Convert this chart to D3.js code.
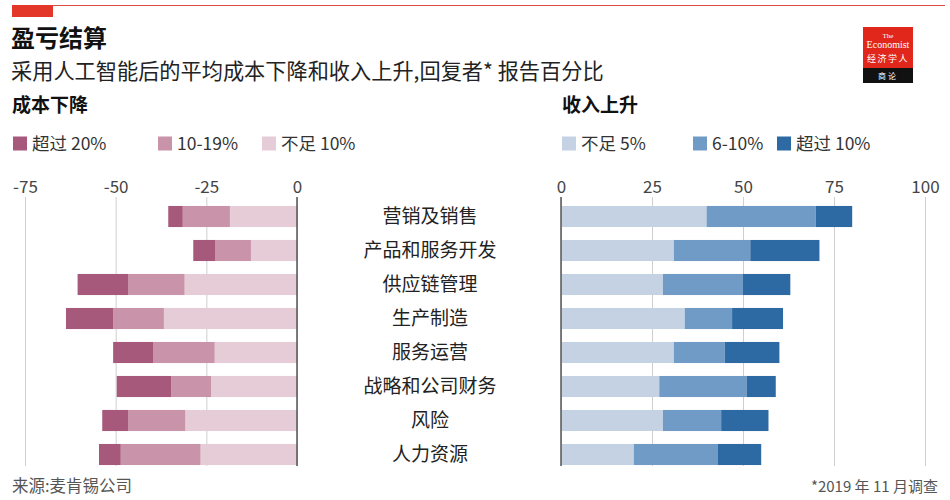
<!DOCTYPE html>
<html><head><meta charset="utf-8">
<script src="https://cdn.jsdelivr.net/npm/d3@7"></script>
<style>
body{margin:0;background:#fff;}
svg{display:block;font-family:"Noto Sans CJK SC","Noto Sans",sans-serif;}
</style></head>
<body><svg id="c" width="950" height="500"></svg>
<script>
const categories = ["营销及销售","产品和服务开发","供应链管理","生产制造","服务运营","战略和公司财务","风险","人力资源"];
// 成本下降 (cost decrease), % of respondents
const costUnder10 = [18.5, 12.7, 31, 36.7, 22.7, 23.7, 30.8, 26.6];
const cost10to19 = [13, 9.9, 15.5, 14, 17, 11, 15.8, 22];
const costOver20 = [4, 6, 14, 13, 11, 15, 7.1, 6];
// 收入上升 (revenue increase), % of respondents
const revUnder5 = [40, 31, 28, 34, 31, 27, 28, 20];
const rev6to10 = [30, 21, 22, 13, 14, 24, 16, 23];
const revOver10 = [10, 19, 13, 14, 15, 8, 13, 12];
const leftTicks = [-75, -50, -25, 0];
const rightTicks = [0, 25, 50, 75, 100];
const leftLegend = ["超过 20%", "10-19%", "不足 10%"];
const rightLegend = ["不足 5%", "6-10%", "超过 10%"];

const svg = d3.select("#c");
const leftColors = ["#a6597b", "#c993a9", "#e5ccd7"];   // over20, 10-19, under10
const rightColors = ["#c4d2e4", "#6f9bc6", "#2d6aa4"];  // under5, 6-10, over10

// top rule
svg.append("line").attr("x1", 12).attr("x2", 945).attr("y1", 5.5).attr("y2", 5.5).attr("stroke", "#e04a3c").attr("stroke-width", 1.2);
svg.append("rect").attr("x", 12).attr("y", 5).attr("width", 41).attr("height", 12).attr("fill", "#e3372a");

// title
svg.append("text").attr("x", 11).attr("y", 47).attr("font-size", 24).attr("font-weight", "bold").attr("fill", "#111").text("盈亏结算");
svg.append("text").attr("x", 11).attr("y", 79).attr("font-size", 21.2).attr("fill", "#222").text("采用人工智能后的平均成本下降和收入上升,回复者* 报告百分比");

// logo
const lg = svg.append("g");
lg.append("rect").attr("x", 863).attr("y", 27).attr("width", 50).attr("height", 56).attr("fill", "#e1261c");
lg.append("rect").attr("x", 863).attr("y", 68).attr("width", 50).attr("height", 15).attr("fill", "#111");
lg.append("text").attr("x", 888).attr("y", 38).attr("text-anchor", "middle").attr("font-size", 7).attr("font-family", "Liberation Serif").attr("fill", "#fff").text("The");
lg.append("text").attr("x", 888).attr("y", 48).attr("text-anchor", "middle").attr("font-size", 10).attr("font-family", "Liberation Serif").attr("fill", "#fff").text("Economist");
lg.append("text").attr("x", 888).attr("y", 62).attr("text-anchor", "middle").attr("font-size", 9).attr("fill", "#fff").attr("letter-spacing", 1.5).text("经济学人");
lg.append("text").attr("x", 888).attr("y", 79).attr("text-anchor", "middle").attr("font-size", 8).attr("fill", "#fff").attr("letter-spacing", 2).text("商论");

// section headers
svg.append("text").attr("x", 12).attr("y", 112).attr("font-size", 19).attr("font-weight", "bold").attr("fill", "#111").text("成本下降");
svg.append("text").attr("x", 562).attr("y", 112).attr("font-size", 19).attr("font-weight", "bold").attr("fill", "#111").text("收入上升");

// legends
const leftLegX = [13, 158, 262];
leftLegend.forEach((t, i) => {
  svg.append("rect").attr("x", leftLegX[i]).attr("y", 136.5).attr("width", 14).attr("height", 14).attr("fill", leftColors[i]);
  svg.append("text").attr("x", leftLegX[i] + 19).attr("y", 150).attr("font-size", 17.5).attr("fill", "#333").text(t);
});
const rightLegX = [562, 693, 777];
rightLegend.forEach((t, i) => {
  svg.append("rect").attr("x", rightLegX[i]).attr("y", 136.5).attr("width", 14).attr("height", 14).attr("fill", rightColors[i]);
  svg.append("text").attr("x", rightLegX[i] + 19).attr("y", 150).attr("font-size", 17.5).attr("fill", "#333").text(t);
});

// scales
const xL = d3.scaleLinear().domain([-75, 0]).range([25, 297]);
const xR = d3.scaleLinear().domain([0, 100]).range([561, 925]);
const y = d3.scaleBand().domain(categories).range([199.5, 471.5]).paddingInner(0.38).paddingOuter(0.19);
const axisY = 197, bottomY = 466;

function drawAxis(scale, ticks) {
  const g = svg.append("g").attr("transform", `translate(0,${axisY})`)
    .call(d3.axisTop(scale).tickValues(ticks).tickSize(-(bottomY - axisY)).tickPadding(4).tickFormat(d => String(d)));
  g.select(".domain").remove();
  g.selectAll(".tick line").attr("stroke", "#cfcfcf").attr("stroke-width", 1);
  g.selectAll(".tick text").attr("font-size", 17).attr("fill", "#444").attr("font-family", "Noto Sans CJK SC");
  return g;
}
drawAxis(xL, leftTicks);
drawAxis(xR, rightTicks);

// left stacked bars (cost)
const leftSeries = [costUnder10, cost10to19, costOver20];
const leftFill = [leftColors[2], leftColors[1], leftColors[0]];
categories.forEach((c, i) => {
  let acc = 0;
  leftSeries.forEach((s, k) => {
    const v0 = acc, v1 = acc + s[i];
    svg.append("rect").attr("x", xL(-v1)).attr("y", y(c)).attr("width", xL(-v0) - xL(-v1)).attr("height", y.bandwidth()).attr("fill", leftFill[k]);
    acc = v1;
  });
});
// right stacked bars (revenue)
const rightSeries = [revUnder5, rev6to10, revOver10];
categories.forEach((c, i) => {
  let acc = 0;
  rightSeries.forEach((s, k) => {
    const v0 = acc, v1 = acc + s[i];
    svg.append("rect").attr("x", xR(v0)).attr("y", y(c)).attr("width", xR(v1) - xR(v0)).attr("height", y.bandwidth()).attr("fill", rightColors[k]);
    acc = v1;
  });
});

// zero lines
svg.append("line").attr("x1", xL(0)).attr("x2", xL(0)).attr("y1", axisY).attr("y2", bottomY).attr("stroke", "#555").attr("stroke-width", 1.5);
svg.append("line").attr("x1", xR(0)).attr("x2", xR(0)).attr("y1", axisY).attr("y2", bottomY).attr("stroke", "#555").attr("stroke-width", 1.5);

// category labels
categories.forEach(c => {
  svg.append("text").attr("x", 430).attr("y", y(c) + y.bandwidth() / 2 + 6.5).attr("text-anchor", "middle").attr("font-size", 19).attr("fill", "#222").text(c);
});

// footer
svg.append("text").attr("x", 12).attr("y", 492).attr("font-size", 16.5).attr("fill", "#555").text("来源:麦肯锡公司");
svg.append("text").attr("x", 938).attr("y", 492).attr("text-anchor", "end").attr("font-size", 15).attr("fill", "#555").text("*2019 年 11 月调查");
</script></body></html>
